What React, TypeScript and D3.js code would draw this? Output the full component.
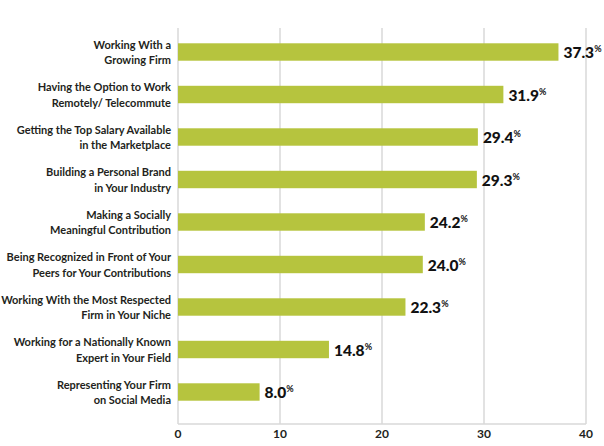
import { useEffect, useRef } from 'react';
import * as d3 from 'd3';

const categories = [
  ['Working With a', 'Growing Firm'],
  ['Having the Option to Work', 'Remotely/ Telecommute'],
  ['Getting the Top Salary Available', 'in the Marketplace'],
  ['Building a Personal Brand', 'in Your Industry'],
  ['Making a Socially', 'Meaningful Contribution'],
  ['Being Recognized in Front of Your', 'Peers for Your Contributions'],
  ['Working With the Most Respected', 'Firm in Your Niche'],
  ['Working for a Nationally Known', 'Expert in Your Field'],
  ['Representing Your Firm', 'on Social Media'],
];
const values = [37.3, 31.9, 29.4, 29.3, 24.2, 24.0, 22.3, 14.8, 8.0];
const xTicks = [0, 10, 20, 30, 40];

const W = 604;
const H = 446;

export default function App() {
  const svgRef = useRef<SVGSVGElement>(null);

  useEffect(() => {
    if (!svgRef.current) return;
    const svg = d3.select(svgRef.current);
    svg.selectAll('*').remove();

    const left = 178;
    const right = 586;
    const top = 28;
    const axisY = 424;

    const x = d3.scaleLinear().domain([0, 40]).range([left, right]);
    const y = d3
      .scaleBand<number>()
      .domain(d3.range(values.length))
      .range([30.75, 413.25])
      .paddingInner(0.59)
      .paddingOuter(0.295);

    // gridlines
    svg
      .append('g')
      .selectAll('line')
      .data(xTicks)
      .join('line')
      .attr('x1', (d) => x(d))
      .attr('x2', (d) => x(d))
      .attr('y1', top)
      .attr('y2', axisY)
      .attr('stroke', '#d9d9d9')
      .attr('stroke-width', 1.5);

    svg
      .append('line')
      .attr('x1', left)
      .attr('x2', right)
      .attr('y1', axisY)
      .attr('y2', axisY)
      .attr('stroke', '#d9d9d9')
      .attr('stroke-width', 1.5);

    // tick labels
    svg
      .append('g')
      .selectAll('text')
      .data(xTicks)
      .join('text')
      .attr('x', (d) => x(d))
      .attr('y', 438)
      .attr('text-anchor', 'middle')
      .attr('font-family', 'Lato, sans-serif')
      .attr('font-weight', 700)
      .attr('font-size', 12)
      .attr('fill', '#231f20')
      .text((d) => d);

    // bars
    svg
      .append('g')
      .selectAll('rect')
      .data(values)
      .join('rect')
      .attr('x', x(0))
      .attr('y', (_, i) => y(i)!)
      .attr('width', (d) => x(d) - x(0))
      .attr('height', y.bandwidth())
      .attr('fill', '#b6c43e');

    // value labels
    const vl = svg
      .append('g')
      .selectAll('text')
      .data(values)
      .join('text')
      .attr('x', (d) => x(d) + 5)
      .attr('y', (_, i) => y(i)! + y.bandwidth() / 2 + 6)
      .attr('font-family', 'Lato, sans-serif')
      .attr('font-weight', 900)
      .attr('font-size', 15.5)
      .attr('fill', '#111');
    vl.append('tspan').text((d) => d.toFixed(1));
    vl.append('tspan')
      .attr('dy', -6)
      .attr('font-size', 9)
      .attr('font-weight', 700)
      .text('%');

    // category labels
    const cl = svg
      .append('g')
      .selectAll('text')
      .data(categories)
      .join('text')
      .attr('text-anchor', 'end')
      .attr('font-family', 'Lato, sans-serif')
      .attr('font-weight', 700)
      .attr('font-size', 11)
      .attr('fill', '#231f20');
    cl.each(function (d, i) {
      const cy = y(i)! + y.bandwidth() / 2;
      d3.select(this)
        .selectAll('tspan')
        .data(d)
        .join('tspan')
        .attr('x', 171)
        .attr('y', (_, j) => cy - 3.5 + j * 15.5)
        .text((t) => t);
    });
  }, []);

  return (
    <div style={{ position: 'fixed', left: 0, top: 0 }}>
      <svg ref={svgRef} width={W} height={H} style={{ display: 'block', background: '#fff' }} />
    </div>
  );
}
